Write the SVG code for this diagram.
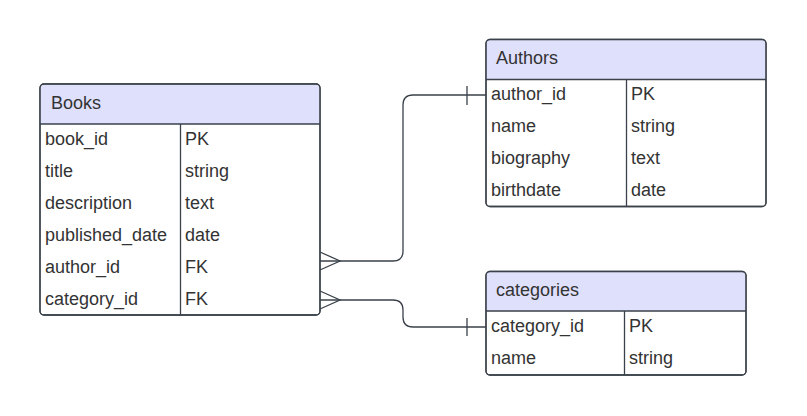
<svg xmlns="http://www.w3.org/2000/svg" width="807" height="416" viewBox="0 0 807 416">
<style>
.box{fill:#ffffff;stroke:#3a414a;stroke-width:1.3}
.hdr{fill:#dfe0fc}
.ln{stroke:#3a414a;stroke-width:1.3;fill:none}
text{font-family:"Liberation Sans",Arial,sans-serif;font-size:18px;fill:#333333;dominant-baseline:central}
</style>
<rect width="807" height="416" fill="#ffffff"/>
<g id="books">
<rect class="box" x="40" y="84" width="280" height="231" rx="4"/>
<path class="hdr" d="M44 84.7 H316 A3.3 3.3 0 0 1 319.3 88 V124 H40.7 V88 A3.3 3.3 0 0 1 44 84.7 Z"/>
<path class="ln" d="M40 124 H320 M180.5 124 V315"/>
<rect x="40" y="84" width="280" height="231" rx="4" class="ln"/>
<text x="51" y="103">Books</text>
<text x="45" y="139">book_id</text><text x="185" y="139">PK</text>
<text x="45" y="171">title</text><text x="185" y="171">string</text>
<text x="45" y="203">description</text><text x="185" y="203">text</text>
<text x="45" y="235">published_date</text><text x="185" y="235">date</text>
<text x="45" y="267">author_id</text><text x="185" y="267">FK</text>
<text x="45" y="299">category_id</text><text x="185" y="299">FK</text>
</g>
<g id="authors">
<rect class="box" x="486" y="39.5" width="280" height="167" rx="4"/>
<path class="hdr" d="M490 40.2 H762 A3.3 3.3 0 0 1 765.3 43.5 V79.5 H486.7 V43.5 A3.3 3.3 0 0 1 490 40.2 Z"/>
<path class="ln" d="M486 79.5 H766 M626.5 79.5 V206.5"/>
<rect x="486" y="39.5" width="280" height="167" rx="4" class="ln"/>
<text x="496" y="58">Authors</text>
<text x="491" y="94">author_id</text><text x="631" y="94">PK</text>
<text x="491" y="126">name</text><text x="631" y="126">string</text>
<text x="491" y="158">biography</text><text x="631" y="158">text</text>
<text x="491" y="190">birthdate</text><text x="631" y="190">date</text>
</g>
<g id="categories">
<rect class="box" x="486" y="271.5" width="260" height="103.5" rx="4"/>
<path class="hdr" d="M490 272.2 H742 A3.3 3.3 0 0 1 745.3 275.5 V311 H486.7 V275.5 A3.3 3.3 0 0 1 490 272.2 Z"/>
<path class="ln" d="M486 311 H746 M624.5 311 V375"/>
<rect x="486" y="271.5" width="260" height="103.5" rx="4" class="ln"/>
<text x="496" y="290">categories</text>
<text x="491" y="326">category_id</text><text x="629" y="326">PK</text>
<text x="491" y="358">name</text><text x="629" y="358">string</text>
</g>
<g id="connectors">
<path class="ln" d="M320 261 H393 Q403 261 403 251 V105 Q403 95 413 95 H486"/>
<path class="ln" d="M320 252 L340 261 L320 270"/>
<path class="ln" d="M467 86 V105"/>
<path class="ln" d="M320 300 H393 Q403 300 403 310 V317 Q403 327 413 327 H486"/>
<path class="ln" d="M320 291 L340 300 L320 309"/>
<path class="ln" d="M467 318 V336"/>
</g>
</svg>
